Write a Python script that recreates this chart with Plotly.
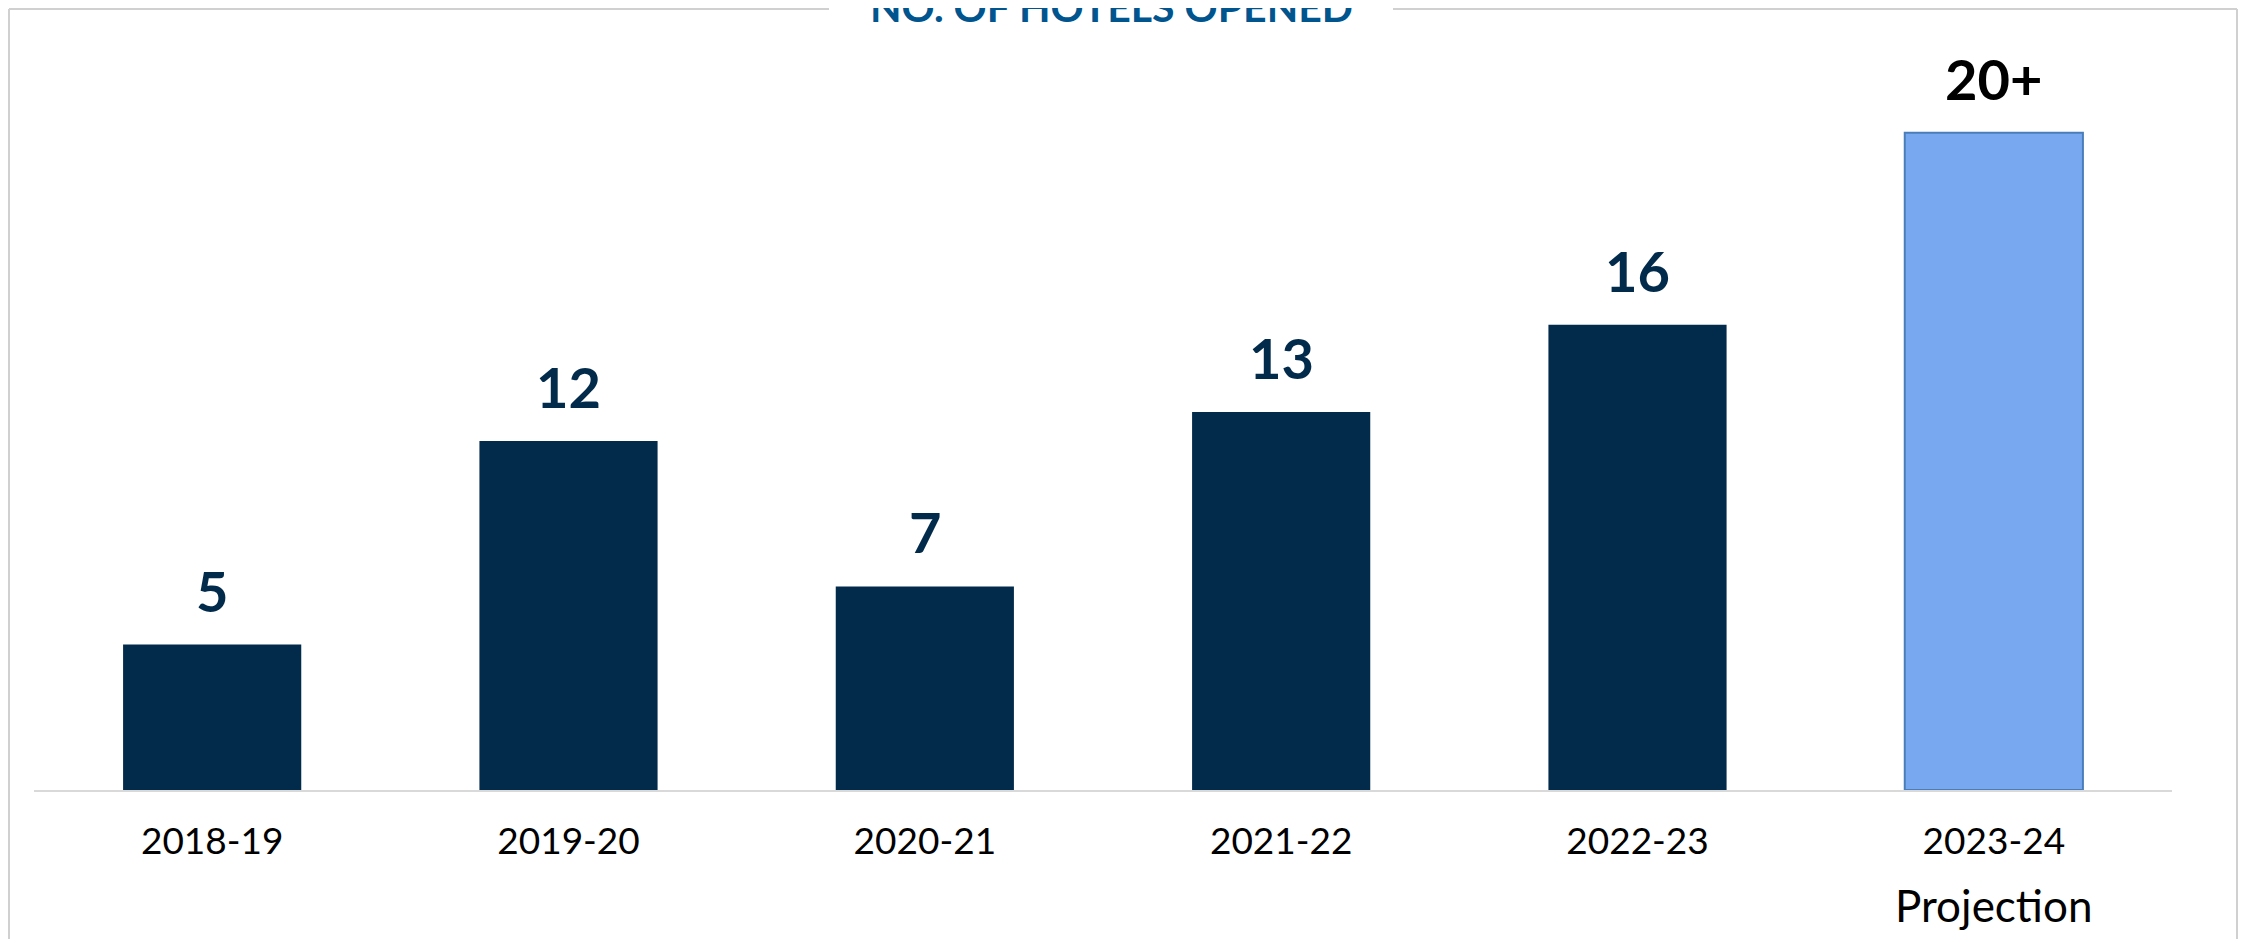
import plotly.graph_objects as go

categories = ["2018-19", "2019-20", "2020-21", "2021-22", "2022-23", "2023-24"]
hotels_opened = [5, 12, 7, 13, 16, 22.6]
value_labels = ["5", "12", "7", "13", "16", "20+"]
label_colors = ["#022b4b", "#022b4b", "#022b4b", "#022b4b", "#022b4b", "#000000"]
bar_colors = ["#022b4b", "#022b4b", "#022b4b", "#022b4b", "#022b4b", "#78a8ef"]
bar_line_colors = ["#022b4b", "#022b4b", "#022b4b", "#022b4b", "#022b4b", "#4a7ebb"]
bar_line_widths = [0, 0, 0, 0, 0, 2]
title_text = "NO. OF HOTELS OPENED"
projection_note = "Projection"

W, H = 2251, 939
L, R, T, B = 26, 87, 55, 157
plot_w = W - L - R
plot_h = H - T - B


def px_x(px):
    return (px - L) / plot_w


def px_y(py):
    return (H - B - py) / plot_h


fig = go.Figure()
fig.add_trace(go.Bar(
    x=categories,
    y=hotels_opened,
    marker=dict(color=bar_colors, line=dict(color=bar_line_colors, width=bar_line_widths)),
    hoverinfo="skip",
))

for cat, val, lab, col in zip(categories, hotels_opened, value_labels, label_colors):
    fig.add_annotation(
        x=cat, y=val, text=f"<b>{lab}</b>", showarrow=False,
        yanchor="bottom", yshift=19,
        font=dict(family="Lato", size=56, color=col),
    )

fig.add_annotation(
    x=categories[-1], y=px_y(897), yref="paper", text=projection_note,
    showarrow=False, yanchor="middle",
    font=dict(family="Lato", size=44, color="#000000"),
)

fig.add_annotation(
    x=px_x(1103.5), xref="paper", y=px_y(25), yref="paper",
    text=f"<b>{title_text}</b>", showarrow=False, yanchor="bottom",
    font=dict(family="Lato", size=41, color="#00558f"),
)

border = dict(color="#d0d0d0", width=2)
top_y = px_y(1)
fig.add_shape(type="line", xref="paper", yref="paper", x0=px_x(1), x1=px_x(1), y0=px_y(960), y1=top_y, line=border)
fig.add_shape(type="line", xref="paper", yref="paper", x0=px_x(2229), x1=px_x(2229), y0=px_y(960), y1=top_y, line=border)
fig.add_shape(type="line", xref="paper", yref="paper", x0=px_x(1), x1=px_x(821), y0=top_y, y1=top_y, line=border)
fig.add_shape(type="line", xref="paper", yref="paper", x0=px_x(1385), x1=px_x(2229), y0=top_y, y1=top_y, line=border)

fig.update_layout(
    width=W, height=H,
    margin=dict(l=L, r=R, t=T, b=B, pad=0),
    paper_bgcolor="white", plot_bgcolor="white",
    bargap=0.5, showlegend=False,
    xaxis=dict(
        showline=True, linecolor="#d9d9d9", linewidth=2,
        ticks="outside", ticklen=18, tickcolor="rgba(0,0,0,0)",
        tickfont=dict(family="Lato", size=37, color="#000000"),
        showgrid=False, zeroline=False,
    ),
    yaxis=dict(range=[0, 25], visible=False, showgrid=False, zeroline=False),
)

fig.write_html("out.html")
